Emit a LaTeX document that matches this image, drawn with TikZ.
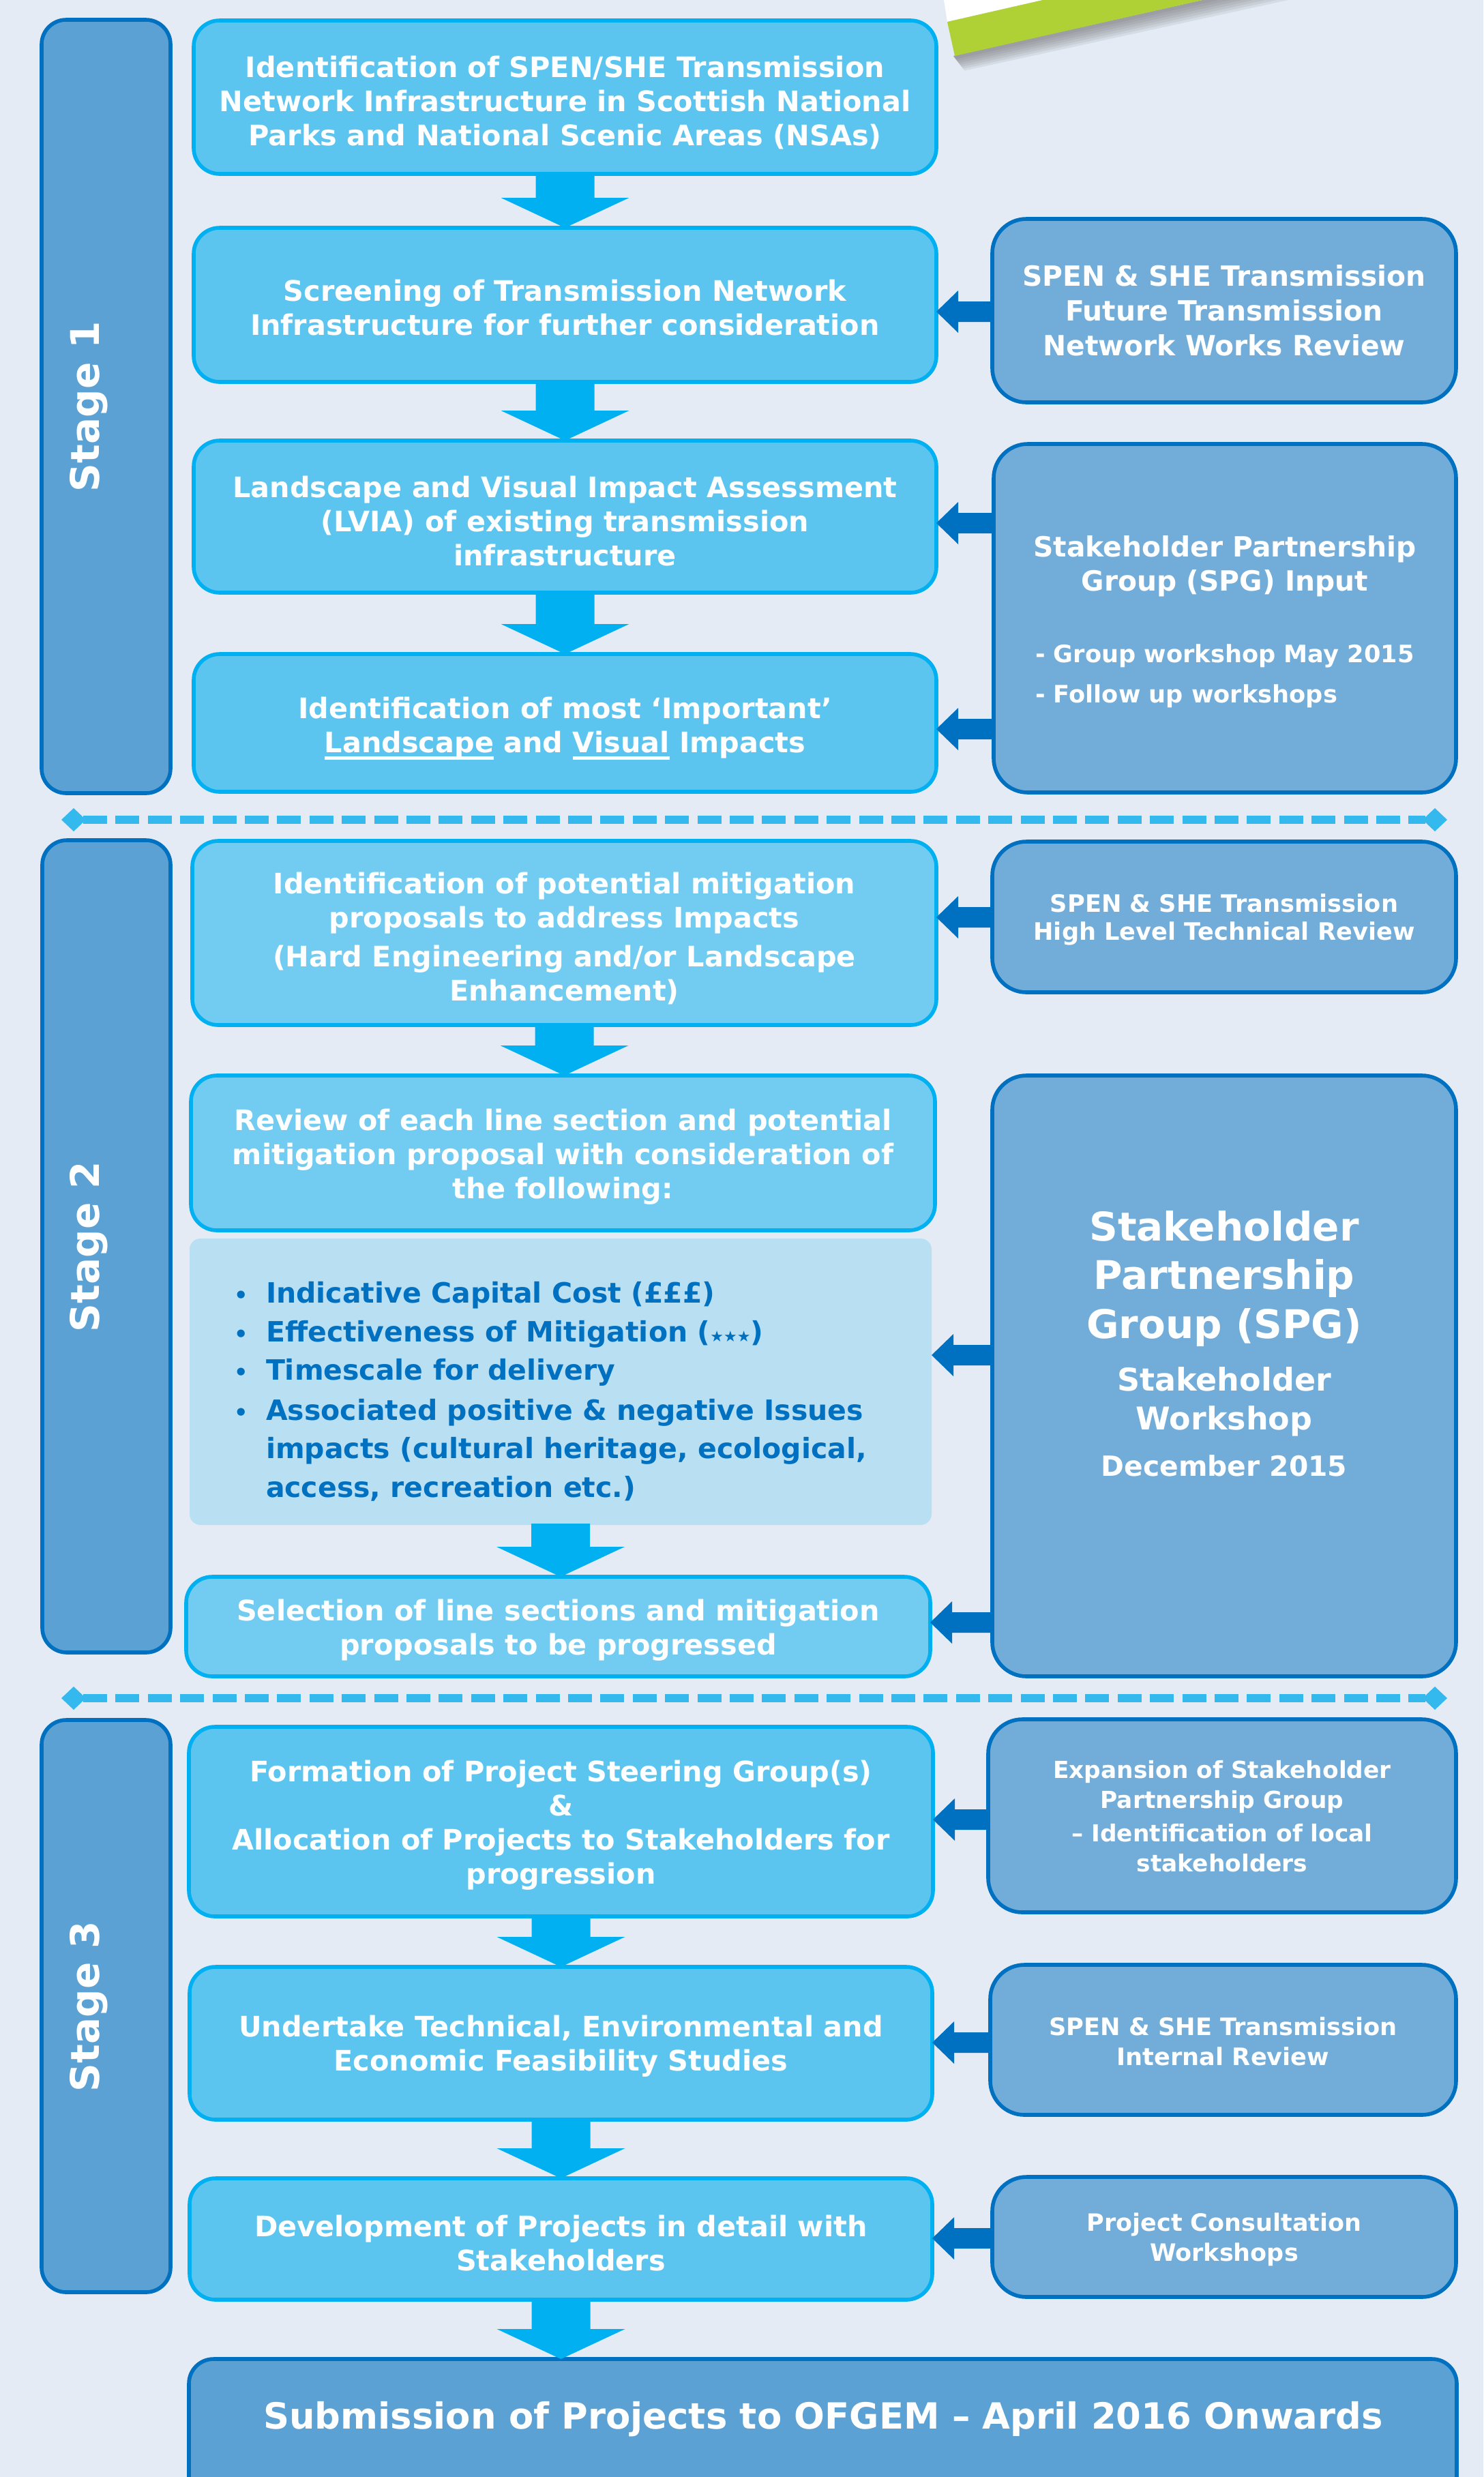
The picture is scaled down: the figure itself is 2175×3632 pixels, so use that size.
\documentclass[tikz,border=0pt]{standalone}
\usepackage{fontspec}
\setmainfont{DejaVu Sans}
\newfontfamily\symfont{DejaVu Sans}
\usetikzlibrary{calc}
\definecolor{bgc}{HTML}{E4EBF5}
\definecolor{mainA}{HTML}{5BC5F0}
\definecolor{mainB}{HTML}{72CCF1}
\definecolor{cyanB}{HTML}{00B0F0}
\definecolor{darkB}{HTML}{0070C0}
\definecolor{stageF}{HTML}{5BA1D4}
\definecolor{rightF}{HTML}{72ACD9}
\definecolor{bulletF}{HTML}{B9DFF3}
\definecolor{sepC}{HTML}{33B9EE}
\definecolor{bannerG}{HTML}{B0D135}
% name, box style, x1, y1, x2, y2, text style, text dy, text
\newcommand{\mkbox}[9]{\node[#2, minimum width={(#5-#3)*0.25pt}, minimum height={(#6-#4)*0.25pt}] (#1) at ({(#3+#5)/2},{(#4+#6)/2}) {};
  \node[txt, #7] (#1t) at ($(#1.center)+(0,#8)$) {#9};}
\newcommand{\dnarrow}[2]{\fill[downarr] ($(#1.south)+(-43,-2)$) -- ($(#1.south |- #2.north)+(-43,-44)$) -- ($(#1.south |- #2.north)+(-94,-44)$) -- (#1.south |- #2.north) -- ($(#1.south |- #2.north)+(94,-44)$) -- ($(#1.south |- #2.north)+(43,-44)$) -- ($(#1.south)+(43,-2)$) -- cycle;}
\newcommand{\lfarrow}[3]{\fill[leftarr] (#2.east |- 0,#3) -- ($(#2.east |- 0,#3)+(32,-31)$) -- ($(#2.east |- 0,#3)+(32,-15)$) -- ($(#1.west |- 0,#3)+(2,-15)$) -- ($(#1.west |- 0,#3)+(2,15)$) -- ($(#2.east |- 0,#3)+(32,15)$) -- ($(#2.east |- 0,#3)+(32,31)$) -- cycle;}
\newcommand{\fmain}{\bfseries\fontsize{10.35}{12.5}\selectfont}
\newcommand{\bul}{\llap{\makebox[18pt]{\fontsize{8}{8}\selectfont•}}}
\newsavebox{\myulbox}
\newcommand{\thickul}[1]{\sbox{\myulbox}{#1}\rlap{\rule[-2.4pt]{\wd\myulbox}{1.1pt}}\usebox{\myulbox}}
\begin{document}
\begin{tikzpicture}[x=0.25pt,y=-0.25pt,
  boxbase/.style={inner sep=0pt, outer sep=0pt, line width=1.4pt},
  mainbox/.style={boxbase, draw=cyanB, fill=mainA, rounded corners=9.5pt},
  mainboxB/.style={mainbox, fill=mainB},
  rightbox/.style={boxbase, draw=darkB, fill=rightF, rounded corners=12.5pt},
  stagebar/.style={boxbase, draw=darkB, fill=stageF, rounded corners=9pt},
  bulletbox/.style={boxbase, fill=bulletF, rounded corners=4pt},
  finalbox/.style={boxbase, draw=darkB, fill=stageF, rounded corners=9pt},
  txt/.style={inner sep=0pt, outer sep=0pt, text=white, align=center},
  maintxt/.style={font=\fmain},
  stagelabel/.style={txt, rotate=90, anchor=base, font=\bfseries\fontsize{14.5}{17}\selectfont},
  bltxt/.style={inner sep=0pt, outer sep=0pt, anchor=base west, text=darkB, font=\bfseries\fontsize{10.25}{14}\selectfont},
  downarr/.style={fill=cyanB},
  leftarr/.style={fill=darkB},
  sepline/.style={draw=sepC, line width=3pt, dash pattern=on 8.75pt off 3.1pt},
  sepend/.style={fill=sepC},
  shadowlayer/.style={fill=black!60, opacity=0.11}
]
\useasboundingbox (0,0) rectangle (2175,3632);
\begin{scope}
\clip (0,0) rectangle (2175,3632);
\fill[bgc] (0,0) rectangle (2175,3632);
% banner corner with soft shadow
\foreach \k in {1,...,7} {
  \fill[shadowlayer] (1398,82) -- ({1399+2.2*\k},{84+2.8*\k}) -- ({1770+17*\k},0) -- (1763,0) -- cycle;
}
\fill[white] (1384,0) -- (1389,32) -- (1529,0) -- cycle;
\fill[bannerG] (1389,32) -- (1400,82) -- (1763,0) -- (1529,0) -- cycle;

% stage bars
\mkbox{s1}{stagebar}{61}{29}{250}{1163}{}{0}{}
\mkbox{s2}{stagebar}{62}{1232}{250}{2423}{}{0}{}
\mkbox{s3}{stagebar}{61}{2522}{250}{3361}{}{0}{}
\node[stagelabel] (s1l) at (145,596) {Stage 1};
\node[stagelabel] (s2l) at (145,1828) {Stage 2};
\node[stagelabel] (s3l) at (145,2942) {Stage 3};

% stage 1
\mkbox{a1}{mainbox}{284}{30}{1373}{255}{maintxt}{8}{Identification of SPEN/SHE Transmission\\Network Infrastructure in Scottish National\\Parks and National Scenic Areas (NSAs)}
\mkbox{a2}{mainbox}{284}{334}{1373}{560}{maintxt}{4}{Screening of Transmission Network\\Infrastructure for further consideration}
\mkbox{a3}{mainbox}{284}{646}{1373}{869}{maintxt}{7}{Landscape and Visual Impact Assessment\\(LVIA) of existing transmission\\infrastructure}
\mkbox{a4}{mainbox}{284}{959}{1373}{1161}{maintxt}{8}{Identification of most ‘Important’\\\thickul{Landscape} and \thickul{Visual} Impacts}
\mkbox{r1}{rightbox}{1455}{321}{2135}{590}{font=\bfseries\fontsize{10.2}{12.75}\selectfont}{0}{SPEN \& SHE Transmission\\Future Transmission\\Network Works Review}
\mkbox{r2}{rightbox}{1457}{651}{2135}{1162}{}{0}{}
\node[txt, anchor=base, font=\bfseries\fontsize{10.2}{12}\selectfont] (r2l1) at (1796,816) {Stakeholder Partnership};
\node[txt, anchor=base, font=\bfseries\fontsize{10.2}{12}\selectfont] (r2l2) at (1796,866) {Group (SPG) Input};
\node[txt, anchor=base west, font=\bfseries\fontsize{8.8}{10}\selectfont] (r2l3) at (1518,971) {- Group workshop May 2015};
\node[txt, anchor=base west, font=\bfseries\fontsize{8.8}{10}\selectfont] (r2l4) at (1518,1030) {- Follow up workshops};

% separator 1
\coordinate (sepL1) at (90,1202);
\coordinate (sepR1) at (2122,1202);
\draw[sepline] ($(sepL1)+(32,0)$) -- ($(sepR1)+(-32,0)$);
\fill[sepend] (sepL1) -- ++(18,-17) -- ++(18,17) -- ++(-18,17) -- cycle;
\fill[sepend] (sepR1) -- ++(-18,-17) -- ++(-18,17) -- ++(18,17) -- cycle;

% stage 2
\mkbox{b1}{mainboxB}{282}{1233}{1373}{1503}{maintxt}{8}{Identification of potential mitigation\\proposals to address Impacts\\[1.6pt](Hard Engineering and/or Landscape\\Enhancement)}
\mkbox{b2}{mainboxB}{280}{1577}{1371}{1804}{maintxt}{6}{Review of each line section and potential\\mitigation proposal with consideration of\\the following:}
\mkbox{bb}{bulletbox}{278}{1816}{1366}{2236}{}{0}{}
\node[bltxt] (bl1) at (390,1910) {\bul Indicative Capital Cost (£££)};
\node[bltxt] (bl2) at (390,1967) {\bul Effectiveness of Mitigation ({\symfont\fontsize{5.5}{6}\selectfont ★★★})};
\node[bltxt] (bl3) at (390,2023) {\bul Timescale for delivery};
\node[bltxt] (bl4) at (390,2082) {\bul Associated positive \& negative Issues};
\node[bltxt] (bl5) at (390,2138) {impacts (cultural heritage, ecological,};
\node[bltxt] (bl6) at (390,2195) {access, recreation etc.)};
\mkbox{b3}{mainboxB}{273}{2312}{1364}{2458}{maintxt}{5}{Selection of line sections and mitigation\\proposals to be progressed}
\mkbox{r3}{rightbox}{1455}{1234}{2135}{1455}{font=\bfseries\fontsize{8.8}{10.4}\selectfont}{4}{SPEN \& SHE Transmission\\High Level Technical Review}
\mkbox{r4}{rightbox}{1455}{1577}{2135}{2458}{}{0}{}
\node[txt, anchor=base, font=\bfseries\fontsize{14.5}{17}\selectfont] (r4l1) at (1795,1819) {Stakeholder};
\node[txt, anchor=base, font=\bfseries\fontsize{14.5}{17}\selectfont] (r4l2) at (1795,1890) {Partnership};
\node[txt, anchor=base, font=\bfseries\fontsize{14.5}{17}\selectfont] (r4l3) at (1795,1962) {Group (SPG)};
\node[txt, anchor=base, font=\bfseries\fontsize{11.5}{14}\selectfont] (r4l4) at (1795,2039) {Stakeholder};
\node[txt, anchor=base, font=\bfseries\fontsize{11.5}{14}\selectfont] (r4l5) at (1795,2096) {Workshop};
\node[txt, anchor=base, font=\bfseries\fontsize{10.2}{12}\selectfont] (r4l6) at (1795,2164) {December 2015};

% separator 2
\coordinate (sepL2) at (90,2490);
\coordinate (sepR2) at (2122,2490);
\draw[sepline] ($(sepL2)+(32,0)$) -- ($(sepR2)+(-32,0)$);
\fill[sepend] (sepL2) -- ++(18,-17) -- ++(18,17) -- ++(-18,17) -- cycle;
\fill[sepend] (sepR2) -- ++(-18,-17) -- ++(-18,17) -- ++(18,17) -- cycle;

% stage 3
\mkbox{c1}{mainbox}{277}{2532}{1368}{2810}{maintxt}{5}{Formation of Project Steering Group(s)\\\&\\Allocation of Projects to Stakeholders for\\progression}
\mkbox{c2}{mainbox}{278}{2884}{1367}{3108}{maintxt}{4}{Undertake Technical, Environmental and\\Economic Feasibility Studies}
\mkbox{c3}{mainbox}{278}{3194}{1367}{3372}{maintxt}{6}{Development of Projects in detail with\\Stakeholders}
\mkbox{r5}{rightbox}{1449}{2521}{2135}{2804}{font=\bfseries\fontsize{8.6}{11}\selectfont}{1}{Expansion of Stakeholder\\Partnership Group\\[1.2pt]– Identification of local\\stakeholders}
\mkbox{r6}{rightbox}{1452}{2881}{2135}{3101}{font=\bfseries\fontsize{8.8}{11}\selectfont}{2}{SPEN \& SHE Transmission\\Internal Review}
\mkbox{r7}{rightbox}{1455}{3192}{2135}{3368}{font=\bfseries\fontsize{8.75}{11}\selectfont}{4}{Project Consultation\\Workshops}
\mkbox{fb}{finalbox}{277}{3459}{2136}{3720}{}{0}{}
\node[txt, font=\bfseries\fontsize{13.2}{16}\selectfont] (fbl) at (1207,3547) {Submission of Projects to OFGEM – April 2016 Onwards};

% down arrows
\dnarrow{a1}{a2}
\dnarrow{a2}{a3}
\dnarrow{a3}{a4}
\dnarrow{b1}{b2}
\dnarrow{bb}{b3}
\dnarrow{c1}{c2}
\dnarrow{c2}{c3}
\dnarrow{c3}{fb}

% left arrows
\lfarrow{r1}{a2}{457}
\lfarrow{r2}{a3}{767}
\lfarrow{r2}{a4}{1069}
\lfarrow{r3}{b1}{1345}
\lfarrow{r4}{bb}{1987}
\lfarrow{r4}{b3}{2379}
\lfarrow{r5}{c1}{2668}
\lfarrow{r6}{c2}{2995}
\lfarrow{r7}{c3}{3282}
\end{scope}
\end{tikzpicture}
\end{document}
